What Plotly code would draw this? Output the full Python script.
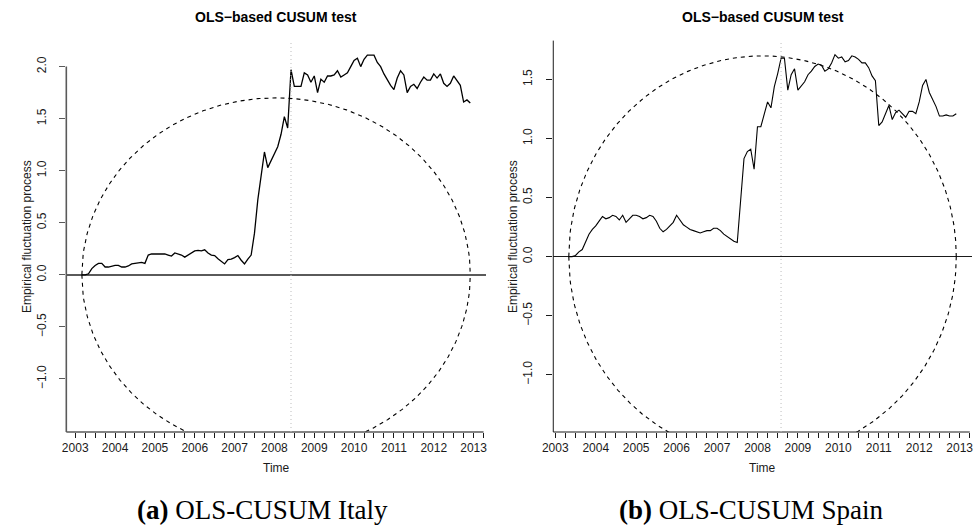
import numpy as np
import plotly.graph_objects as go

# Monthly OLS-based CUSUM processes (start year, start month index 0=Jan)
italy_start = (2003, 2)
italy_cusum = [
    0.00, 0.00, 0.01, 0.06, 0.09, 0.11, 0.11, 0.075, 0.075, 0.085,
    0.09, 0.09, 0.075, 0.075, 0.085, 0.105, 0.11, 0.12, 0.12, 0.11,
    0.19, 0.20, 0.20, 0.20, 0.20, 0.20, 0.19, 0.18, 0.21, 0.20,
    0.19, 0.17, 0.19, 0.21, 0.23, 0.235, 0.23, 0.24, 0.21, 0.19,
    0.185, 0.155, 0.13, 0.105, 0.145, 0.15, 0.165, 0.185, 0.14, 0.105,
    0.15, 0.19, 0.40, 0.72, 0.95, 1.18, 1.03, 1.10, 1.16, 1.23,
    1.35, 1.52, 1.41, 1.97, 1.81, 1.81, 1.81, 1.94, 1.92, 1.85,
    1.91, 1.75, 1.88, 1.85, 1.91, 1.91, 1.92, 1.96, 1.90, 1.92,
    1.94, 2.00, 2.06, 2.08, 2.00, 2.07, 2.11, 2.11, 2.11, 2.04,
    2.00, 1.93, 1.87, 1.82, 1.78, 1.89, 1.96, 1.92, 1.75, 1.81,
    1.83, 1.79, 1.85, 1.90, 1.87, 1.87, 1.93, 1.89, 1.93, 1.84,
    1.81, 1.84, 1.91, 1.86, 1.82, 1.66, 1.68, 1.65,
]

spain_start = (2003, 4)
spain_cusum = [
    0.00, 0.00, 0.01, 0.04, 0.06, 0.12, 0.19, 0.23, 0.26, 0.30,
    0.34, 0.32, 0.33, 0.35, 0.34, 0.31, 0.35, 0.29, 0.32, 0.35,
    0.35, 0.34, 0.32, 0.33, 0.35, 0.34, 0.30, 0.24, 0.21, 0.23,
    0.26, 0.29, 0.35, 0.31, 0.27, 0.25, 0.23, 0.22, 0.21, 0.20,
    0.21, 0.22, 0.22, 0.24, 0.24, 0.22, 0.19, 0.17, 0.15, 0.13,
    0.12, 0.50, 0.83, 0.89, 0.91, 0.74, 1.10, 1.10, 1.20, 1.31,
    1.26, 1.44, 1.55, 1.68, 1.68, 1.41, 1.54, 1.59, 1.41, 1.45,
    1.48, 1.54, 1.57, 1.61, 1.63, 1.62, 1.57, 1.59, 1.64, 1.71,
    1.68, 1.69, 1.65, 1.66, 1.70, 1.69, 1.67, 1.64, 1.64, 1.60,
    1.53, 1.49, 1.11, 1.14, 1.21, 1.28, 1.16, 1.22, 1.24, 1.21,
    1.18, 1.23, 1.23, 1.21, 1.31, 1.45, 1.50, 1.39, 1.33, 1.27,
    1.19, 1.19, 1.20, 1.19, 1.19, 1.21,
]

# Peak height of the alternative boundary and the estimated break dates
italy_crit = 1.70
spain_crit = 1.70
italy_break = 2008 + 5 / 12
spain_break = 2008 + 7 / 12

year_ticks = list(range(2003, 2014))
italy_yticks = [-1.0, -0.5, 0.0, 0.5, 1.0, 1.5, 2.0]
spain_yticks = [-1.0, -0.5, 0.0, 0.5, 1.0, 1.5]

captions = [("(a)", "OLS-CUSUM Italy"), ("(b)", "OLS-CUSUM Spain")]
main_title = "OLS\u2212based CUSUM test"

W, H = 979, 532
FONT = "Liberation Sans, Arial, sans-serif"


def times(start, n):
    y0, m0 = start
    return np.array([y0 + (m0 + i) / 12 for i in range(n)])


def fmt(v):
    s = f"{abs(v):.1f}"
    return ("\u2212" + s) if v < 0 else s


panels = [
    dict(t=times(italy_start, len(italy_cusum)), v=np.array(italy_cusum),
         crit=italy_crit, brk=italy_break, yticks=italy_yticks,
         yrange=[-1.51, 2.25], xpx=(56, 480.7), axcol="#5a5a5a", axw=1.6,
         lw=1.3, ytop=2.0, ylab_x=17, cap_x=255),
    dict(t=times(spain_start, len(spain_cusum)), v=np.array(spain_cusum),
         crit=spain_crit, brk=spain_break, yticks=spain_yticks,
         yrange=[-1.485, 1.829], xpx=(549, 972.7), axcol="#1a1a1a", axw=1.0,
         lw=1.1, ytop=None, ylab_x=509, cap_x=750),
]

plot_top_px, plot_bot_px = 40.6, 432.0
ydom = [(H - plot_bot_px) / H, (H - plot_top_px) / H]
ymid = 1 - (plot_top_px + plot_bot_px) / 2 / H

fig = go.Figure()
shapes, annotations = [], []

for k, p in enumerate(panels):
    ax = "" if k == 0 else str(k + 1)
    xa, ya = "x" + ax, "y" + ax
    t, v = p["t"], p["v"]
    span = t[-1] - t[0]
    xr = [t[0] - 0.04 * span, t[-1] + 0.04 * span]
    xdom = [p["xpx"][0] / W, p["xpx"][1] / W]

    # Boundary of the OLS-based CUSUM test: crit * 2 * sqrt(s (1 - s))
    s = np.linspace(0, 1, 600)
    bt = t[0] + s * span
    bv = p["crit"] * 2 * np.sqrt(s * (1 - s))
    for sign in (1, -1):
        fig.add_trace(go.Scatter(
            x=bt, y=sign * bv, mode="lines", xaxis=xa, yaxis=ya,
            line=dict(color="black", width=1.1, dash="4px,4px"),
            hoverinfo="skip", showlegend=False))

    fig.add_trace(go.Scatter(
        x=t, y=v, mode="lines", xaxis=xa, yaxis=ya,
        line=dict(color="black", width=p["lw"]), showlegend=False))

    common_font = dict(family=FONT, size=12, color="#1a1a1a")
    fig.layout["xaxis" + ax] = dict(
        domain=xdom, range=xr, anchor=ya, showgrid=False, zeroline=False,
        showline=False, tickmode="array", tickvals=year_ticks,
        ticktext=[str(yv) for yv in year_ticks], ticks="outside",
        ticklen=5, tickwidth=1, tickcolor="#1a1a1a", tickfont=common_font,
        minor=dict(tickmode="linear", tick0=2003, dtick=0.25, ticks="outside",
                   ticklen=5, tickwidth=1, tickcolor="#1a1a1a", showgrid=False),
    )
    fig.layout["yaxis" + ax] = dict(
        domain=ydom, range=p["yrange"], anchor=xa, showgrid=False,
        zeroline=True, zerolinecolor=p["axcol"], zerolinewidth=p["axw"],
        showline=False, tickmode="array", tickvals=p["yticks"],
        ticktext=[fmt(yv) for yv in p["yticks"]], ticks="outside",
        ticklen=6, tickwidth=1, tickcolor=p["axcol"], tickangle=-90,
        ticklabelstandoff=9, tickfont=common_font,
    )

    # L-shaped axis lines
    y0, y1 = p["yrange"]
    ytop = p["ytop"] if p["ytop"] is not None else y1
    ytop_paper = ydom[0] + (ytop - y0) / (y1 - y0) * (ydom[1] - ydom[0])
    shapes.append(dict(type="line", xref="paper", yref="paper",
                       x0=xdom[0], x1=xdom[0], y0=ydom[0], y1=ytop_paper,
                       line=dict(color=p["axcol"], width=p["axw"])))
    x_end = xdom[0] + (2013.25 - xr[0]) / (xr[1] - xr[0]) * (xdom[1] - xdom[0])
    shapes.append(dict(type="line", xref="paper", yref="paper",
                       x0=xdom[0], x1=x_end, y0=ydom[0], y1=ydom[0],
                       line=dict(color=p["axcol"], width=p["axw"])))

    # Break date
    shapes.append(dict(type="line", xref=xa, yref=ya + " domain",
                       x0=p["brk"], x1=p["brk"], y0=0, y1=1,
                       line=dict(color="#bdbdbd", width=1, dash="1px,3px")))

    xc = (xdom[0] + xdom[1]) / 2
    annotations.append(dict(text=f"<b>{main_title}</b>", x=xc, y=1 - 17 / H,
                            xref="paper", yref="paper", showarrow=False,
                            xanchor="center", yanchor="middle",
                            font=dict(family=FONT, size=14, color="black")))
    annotations.append(dict(text="Time", x=xc, y=1 - 468 / H,
                            xref="paper", yref="paper", showarrow=False,
                            xanchor="center", yanchor="middle",
                            font=dict(family=FONT, size=12, color="#1a1a1a")))
    annotations.append(dict(text="Empirical fluctuation process",
                            x=p["ylab_x"] / W, y=ymid,
                            xref="paper", yref="paper", showarrow=False,
                            textangle=-90, xanchor="center", yanchor="middle",
                            font=dict(family=FONT, size=12, color="#1a1a1a")))
    lab, cap = captions[k]
    annotations.append(dict(text=f"<b>{lab}</b> {cap}",
                            x=p["cap_x"] / W, y=1 - 510 / H,
                            xref="paper", yref="paper", showarrow=False,
                            xanchor="center", yanchor="middle",
                            font=dict(family="Liberation Serif, serif", size=27,
                                      color="black")))

fig.update_layout(
    width=W, height=H, margin=dict(l=0, r=0, t=0, b=0),
    paper_bgcolor="white", plot_bgcolor="white", showlegend=False,
    shapes=shapes, annotations=annotations,
)

fig.write_html("out.html")
